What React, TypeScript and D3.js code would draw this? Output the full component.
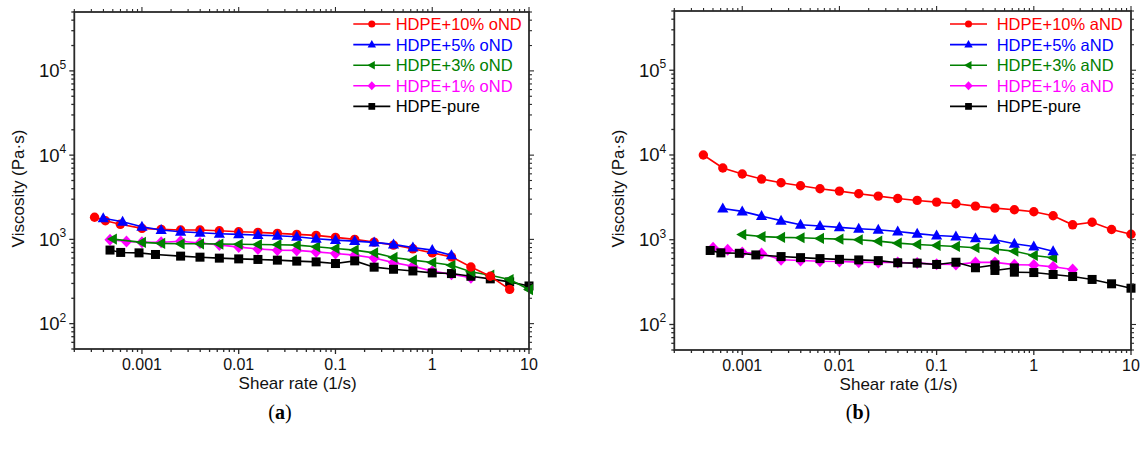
import React from 'react';
import * as d3 from 'd3';

// ---------- tick labels ----------
const xTickValues = [0.001, 0.01, 0.1, 1, 10];
const xTickLabels = ['0.001', '0.01', '0.1', '1', '10'];
const yTickExponents = [2, 3, 4, 5];

// ---------- panel (a): oND ----------
const rateA10 = [0.000324, 0.000419, 0.000598, 0.001, 0.00158, 0.00251, 0.00398, 0.00631, 0.01, 0.0158, 0.0251, 0.0398, 0.0631, 0.1, 0.158, 0.251, 0.398, 0.631, 1, 1.58, 2.51, 3.98, 6.31];
const viscA10 = [1830, 1665, 1510, 1352, 1316, 1290, 1290, 1266, 1232, 1211, 1179, 1147, 1116, 1056, 1000, 929, 856, 773, 692, 620, 470, 365, 255];

const rateA5 = [0.000398, 0.000631, 0.001, 0.00158, 0.00251, 0.00398, 0.00631, 0.01, 0.0158, 0.0251, 0.0398, 0.0631, 0.1, 0.158, 0.251, 0.398, 0.631, 1, 1.58];
const viscA5 = [1778, 1621, 1413, 1290, 1232, 1198, 1166, 1147, 1125, 1104, 1074, 1017, 981, 954, 921, 872, 803, 746, 650];

const rateA3 = [0.000501, 0.001, 0.00158, 0.00251, 0.00398, 0.00631, 0.01, 0.0158, 0.0251, 0.0398, 0.0631, 0.1, 0.158, 0.251, 0.398, 0.631, 1, 1.58, 2.51, 3.98, 6.31, 10];
const viscA3 = [1008, 921, 896, 886, 886, 880, 875, 870, 865, 855, 816, 781, 746, 692, 610, 567, 532, 494, 412, 376, 334, 254];

const rateA1 = [0.000468, 0.000692, 0.001, 0.00158, 0.00251, 0.00398, 0.00631, 0.01, 0.0158, 0.0251, 0.0398, 0.0631, 0.1, 0.158, 0.251, 0.398, 0.631, 1, 1.58, 2.51];
const viscA1 = [990, 945, 925, 925, 950, 905, 860, 810, 770, 745, 740, 710, 680, 650, 600, 530, 480, 420, 385, 350];

const rateApure = [0.000468, 0.000603, 0.000933, 0.00138, 0.00251, 0.00398, 0.00631, 0.01, 0.0158, 0.0251, 0.0398, 0.0631, 0.1, 0.158, 0.251, 0.398, 0.631, 1, 1.58, 2.51, 3.98, 6.31, 10];
const viscApure = [747, 700, 692, 662, 633, 615, 599, 587, 578, 567, 552, 541, 517, 556, 468, 442, 422, 400, 393, 365, 340, 313, 280];

// ---------- panel (b): aND ----------
const rateB10 = [0.000398, 0.000631, 0.001, 0.00158, 0.00251, 0.00398, 0.00631, 0.01, 0.0158, 0.0251, 0.0398, 0.0631, 0.1, 0.158, 0.251, 0.398, 0.631, 1, 1.58, 2.51, 3.98, 6.31, 10];
const viscB10 = [10000, 7020, 5960, 5200, 4710, 4340, 4000, 3750, 3490, 3270, 3070, 2910, 2780, 2660, 2490, 2360, 2260, 2140, 1920, 1500, 1610, 1320, 1160];

const rateB5 = [0.000631, 0.001, 0.00158, 0.00251, 0.00398, 0.00631, 0.01, 0.0158, 0.0251, 0.0398, 0.0631, 0.1, 0.158, 0.251, 0.398, 0.631, 1, 1.58];
const viscB5 = [2340, 2160, 1900, 1680, 1500, 1450, 1400, 1350, 1310, 1250, 1180, 1120, 1090, 1040, 1000, 897, 833, 733];

const rateB3 = [0.001, 0.00158, 0.00251, 0.00398, 0.00631, 0.01, 0.0158, 0.0251, 0.0398, 0.0631, 0.1, 0.158, 0.251, 0.398, 0.631, 1, 1.58];
const viscB3 = [1150, 1090, 1065, 1055, 1035, 1016, 1000, 963, 912, 880, 856, 833, 804, 774, 733, 653, 613];

const rateB1 = [0.000501, 0.000708, 0.001, 0.00158, 0.00251, 0.00398, 0.00631, 0.01, 0.0158, 0.0251, 0.0398, 0.0631, 0.1, 0.158, 0.251, 0.398, 0.631, 1, 1.58, 2.51];
const viscB1 = [804, 762, 708, 689, 581, 570, 558, 554, 544, 539, 539, 530, 515, 510, 540, 540, 508, 503, 479, 445];

const rateBpure = [0.000468, 0.000603, 0.000933, 0.00138, 0.00251, 0.00398, 0.00631, 0.01, 0.0158, 0.0251, 0.0398, 0.0631, 0.1, 0.158, 0.251, 0.398, 0.398, 0.631, 0.631, 1, 1.58, 2.51, 3.98, 6.31, 10];
const viscBpure = [747, 700, 692, 662, 633, 615, 599, 587, 578, 567, 535, 530, 511, 543, 467, 505, 434, 465, 414, 410, 389, 368, 340, 302, 268];

type MarkerKind = 'circle' | 'triUp' | 'triLeft' | 'diamond' | 'square';
type Series = { label: string; color: string; marker: MarkerKind; x: number[]; y: number[] };

const seriesA: Series[] = [
  { label: 'HDPE+10% oND', color: '#FF0000', marker: 'circle', x: rateA10, y: viscA10 },
  { label: 'HDPE+5% oND', color: '#0000FF', marker: 'triUp', x: rateA5, y: viscA5 },
  { label: 'HDPE+3% oND', color: '#008000', marker: 'triLeft', x: rateA3, y: viscA3 },
  { label: 'HDPE+1% oND', color: '#FF00FF', marker: 'diamond', x: rateA1, y: viscA1 },
  { label: 'HDPE-pure', color: '#000000', marker: 'square', x: rateApure, y: viscApure },
];
const seriesB: Series[] = [
  { label: 'HDPE+10% aND', color: '#FF0000', marker: 'circle', x: rateB10, y: viscB10 },
  { label: 'HDPE+5% aND', color: '#0000FF', marker: 'triUp', x: rateB5, y: viscB5 },
  { label: 'HDPE+3% aND', color: '#008000', marker: 'triLeft', x: rateB3, y: viscB3 },
  { label: 'HDPE+1% aND', color: '#FF00FF', marker: 'diamond', x: rateB1, y: viscB1 },
  { label: 'HDPE-pure', color: '#000000', marker: 'square', x: rateBpure, y: viscBpure },
];

const drawOrder = [3, 4, 2, 0, 1];

function Marker({ kind, cx, cy, s, color }: { kind: MarkerKind; cx: number; cy: number; s: number; color: string }) {
  switch (kind) {
    case 'circle':
      return <circle cx={cx} cy={cy} r={4.7 * s} fill={color} />;
    case 'square':
      return <rect x={cx - 4.5 * s} y={cy - 4.5 * s} width={9 * s} height={9 * s} fill={color} />;
    case 'triUp':
      return <path d={`M${cx},${cy - 6 * s}L${cx + 5.6 * s},${cy + 4 * s}L${cx - 5.6 * s},${cy + 4 * s}Z`} fill={color} />;
    case 'triLeft':
      return <path d={`M${cx - 6 * s},${cy}L${cx + 4 * s},${cy - 5.6 * s}L${cx + 4 * s},${cy + 5.6 * s}Z`} fill={color} />;
    case 'diamond':
      return <path d={`M${cx},${cy - 6 * s}L${cx + 5.6 * s},${cy}L${cx},${cy + 6 * s}L${cx - 5.6 * s},${cy}Z`} fill={color} />;
  }
}

type Geo = { left: number; right: number; top: number; bottom: number; legendLineX: number; legendTextX: number; ytitleX: number; captionX: number; caption: string };

const FONT = "'Liberation Sans', Arial, sans-serif";

function Panel({ g, series }: { g: Geo; series: Series[] }) {
  const x = d3.scaleLog().domain([2e-4, 10]).range([g.left, g.right]);
  const y = d3.scaleLog().domain([50, 5e5]).range([g.bottom, g.top]);
  const line = d3.line<[number, number]>().x((d) => x(d[0])).y((d) => y(d[1]));

  const xTicks: { v: number; major: boolean }[] = [];
  for (let e = -4; e <= 1; e++) {
    for (let k = 1; k <= 9; k++) {
      const v = k * Math.pow(10, e);
      if (v >= 2e-4 * 0.999 && v <= 10 * 1.001) xTicks.push({ v, major: k === 1 });
    }
  }
  const yTicks: { v: number; major: boolean }[] = [];
  for (let e = 1; e <= 5; e++) {
    for (let k = 1; k <= 9; k++) {
      const v = k * Math.pow(10, e);
      if (v >= 50 * 0.999 && v <= 5e5 * 1.001) yTicks.push({ v, major: k === 1 });
    }
  }
  const axisColor = '#2a2a2a';
  const cx = (g.left + g.right) / 2;
  const cy = (g.top + g.bottom) / 2;

  return (
    <g>
      {drawOrder.map((i) => {
        const s = series[i];
        const pts = s.x.map((xv, j) => [xv, s.y[j]] as [number, number]);
        return (
          <g key={s.label}>
            <path d={line(pts) || ''} fill="none" stroke={s.color} strokeWidth={1.6} />
            {pts.map((p, j) => (
              <Marker key={j} kind={s.marker} cx={x(p[0])} cy={y(p[1])} s={1} color={s.color} />
            ))}
          </g>
        );
      })}
      <rect x={g.left} y={g.top} width={g.right - g.left} height={g.bottom - g.top} fill="none" stroke={axisColor} strokeWidth={1.8} />
      {xTicks.map((t, i) => {
        const len = t.major ? 5 : 3;
        const xx = x(t.v);
        return (
          <g key={'xt' + i}>
            <line x1={xx} x2={xx} y1={g.bottom} y2={g.bottom + len} stroke={axisColor} strokeWidth={1.3} />
            <line x1={xx} x2={xx} y1={g.top} y2={g.top - len} stroke={axisColor} strokeWidth={1.1} />
          </g>
        );
      })}
      {yTicks.map((t, i) => {
        const len = t.major ? 5 : 3;
        const yy = y(t.v);
        return (
          <g key={'yt' + i}>
            <line x1={g.left} x2={g.left - len} y1={yy} y2={yy} stroke={axisColor} strokeWidth={1.3} />
            <line x1={g.right} x2={g.right + len} y1={yy} y2={yy} stroke={axisColor} strokeWidth={1.1} />
          </g>
        );
      })}
      {xTickValues.map((v, i) => (
        <text key={'xl' + i} x={x(v)} y={g.bottom + 21} textAnchor="middle" fontFamily={FONT} fontSize={16} fill="#111">
          {xTickLabels[i]}
        </text>
      ))}
      {yTickExponents.map((e) => (
        <text key={'yl' + e} x={g.left - 8} y={y(Math.pow(10, e)) + 6.5} textAnchor="end" fontFamily={FONT} fontSize={18.5} fill="#111">
          10
          <tspan fontSize={12} dy={-8.5}>{e}</tspan>
        </text>
      ))}
      <text x={cx - 4} y={g.bottom + 40} textAnchor="middle" fontFamily={FONT} fontSize={17} fill="#111">
        Shear rate (1/s)
      </text>
      <text transform={`translate(${g.ytitleX},${cy + 8}) rotate(-90)`} textAnchor="middle" fontFamily={FONT} fontSize={17} fill="#111">
        Viscosity (Pa·s)
      </text>
      {series.map((s, i) => {
        const ly = 24 + i * 20.6;
        return (
          <g key={'lg' + i}>
            <line x1={g.legendLineX} x2={g.legendLineX + 37} y1={ly} y2={ly} stroke={s.color} strokeWidth={1.6} />
            <Marker kind={s.marker} cx={g.legendLineX + 18.5} cy={ly} s={0.75} color={s.color} />
            <text x={g.legendTextX} y={ly + 6} fontFamily={FONT} fontSize={16.5} fill={s.color}>
              {s.label}
            </text>
          </g>
        );
      })}
      <text x={g.captionX} y={419} textAnchor="middle" fontFamily="'Liberation Serif', 'Times New Roman', serif" fontSize={20} fill="#000">
        (<tspan fontWeight="bold">{g.caption}</tspan>)
      </text>
    </g>
  );
}

const geoA: Geo = { left: 74.3, right: 529, top: 12, bottom: 349, legendLineX: 353.3, legendTextX: 395.7, ytitleX: 24, captionX: 280, caption: 'a' };
const geoB: Geo = { left: 674.3, right: 1131, top: 11, bottom: 350, legendLineX: 950, legendTextX: 996.7, ytitleX: 624, captionX: 858, caption: 'b' };

export default function App() {
  return (
    <svg width={1145} height={455} style={{ position: 'absolute', left: 0, top: 0, background: '#fff' }}>
      <rect x={0} y={0} width={1145} height={455} fill="#fff" />
      <Panel g={geoA} series={seriesA} />
      <Panel g={geoB} series={seriesB} />
    </svg>
  );
}
